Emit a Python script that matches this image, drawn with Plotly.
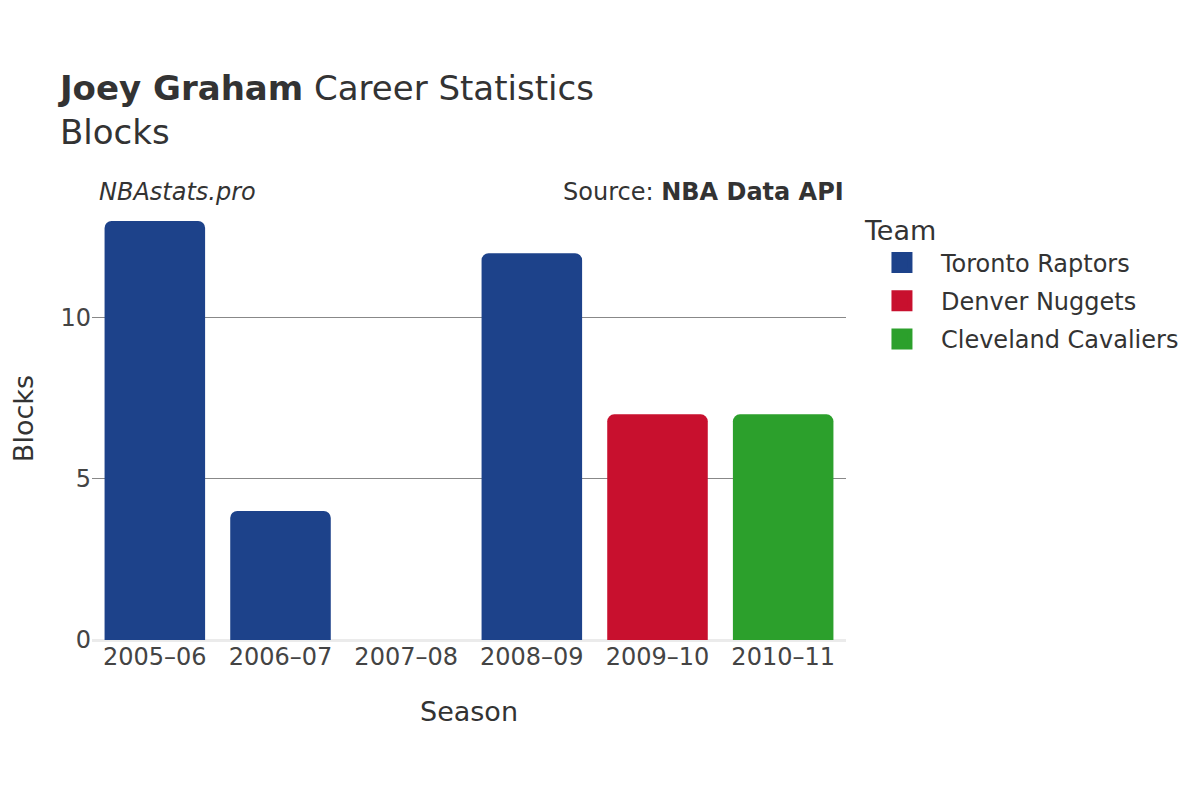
import plotly.graph_objects as go

seasons = ["2005–06", "2006–07", "2007–08", "2008–09", "2009–10", "2010–11"]
teams = ["Toronto Raptors", "Denver Nuggets", "Cleveland Cavaliers"]
team_colors = ["#1D428A", "#C8102E", "#2CA02C"]
toronto_seasons = ["2005–06", "2006–07", "2007–08", "2008–09"]
toronto_blocks = [13, 4, 0, 12]
denver_seasons = ["2009–10"]
denver_blocks = [7]
cleveland_seasons = ["2010–11"]
cleveland_blocks = [7]

series = [
    (teams[0], toronto_seasons, toronto_blocks, team_colors[0]),
    (teams[1], denver_seasons, denver_blocks, team_colors[1]),
    (teams[2], cleveland_seasons, cleveland_blocks, team_colors[2]),
]

FONT = "DejaVu Sans"
TXT = "#333333"

fig = go.Figure()
for name, xs, ys, col in series:
    fig.add_trace(go.Bar(x=xs, y=ys, name=name, showlegend=False, legendgroup=name,
                         marker=dict(color=col, line=dict(width=0))))
# legend proxies (larger square swatches)
for name, xs, ys, col in series:
    fig.add_trace(go.Scatter(x=[None], y=[None], mode="markers", name=name, legendgroup=name,
                             marker=dict(symbol="square", size=16, color=col,
                                         line=dict(color=col, width=5))))

fig.update_layout(
    width=1200, height=800,
    paper_bgcolor="white", plot_bgcolor="white",
    font=dict(family=FONT, color=TXT, size=24),
    margin=dict(l=84, r=362, t=192, b=168),
    barmode="relative", bargap=0.2, barcornerradius=7,
    title=dict(
        text="<b>Joey Graham</b> Career Statistics<br>Blocks",
        x=0.0433, xanchor="left", xref="container",
        y=0.885, yanchor="top", yref="container",
        font=dict(family=FONT, size=34, color=TXT),
    ),
    xaxis=dict(
        categoryorder="array", categoryarray=seasons,
        title=dict(text="Season", font=dict(size=27, color=TXT), standoff=32),
        tickfont=dict(size=24, color="#444444"),
        showgrid=False, showline=False, ticks="", automargin=False,
    ),
    yaxis=dict(
        range=[0, 13.65],
        tickvals=[0, 5, 10],
        tickfont=dict(size=24, color="#444444"),
        showgrid=True, gridcolor="#888888", gridwidth=1,
        zeroline=True, zerolinecolor="#ebebeb", zerolinewidth=3,
        ticks="", automargin=False,
    ),
    legend=dict(
        title=dict(text="Team", font=dict(size=27, color=TXT)),
        x=1.0225, xanchor="left", y=0.988, yanchor="top",
        font=dict(size=24, color=TXT),
        tracegroupgap=4, itemwidth=68,
    ),
    annotations=[
        dict(text="<i>NBAstats.pro</i>", xref="paper", yref="paper", x=0.0066, y=1.018,
             xanchor="left", yanchor="middle", showarrow=False, font=dict(size=24, color=TXT)),
        dict(text="Source: <b>NBA Data API</b>", xref="paper", yref="paper", x=0.9995, y=1.018,
             xanchor="right", yanchor="middle", showarrow=False, font=dict(size=24, color=TXT)),
        dict(text="Blocks", xref="paper", yref="paper", x=-0.0915, y=0.502,
             xanchor="center", yanchor="middle", textangle=-90, showarrow=False,
             font=dict(size=27, color=TXT)),
    ],
)

fig.write_html("out.html")
